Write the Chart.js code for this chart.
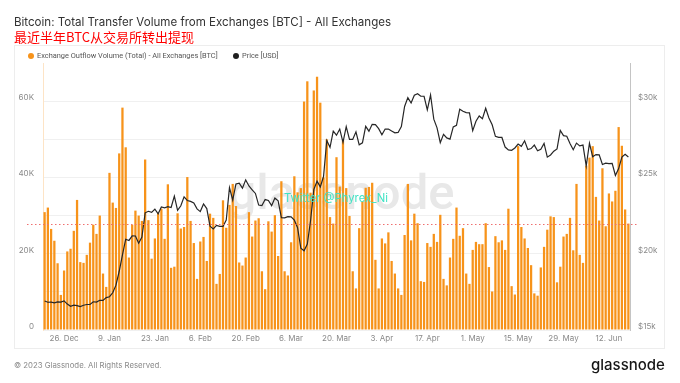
<!DOCTYPE html>
<html><head><meta charset="utf-8">
<script src="https://cdn.jsdelivr.net/npm/chart.js@4.4.0/dist/chart.umd.min.js"></script>
<style>
html,body{margin:0;padding:0;background:#fff;}
#root{position:relative;width:680px;height:383px;overflow:hidden;font-family:Inter,"Noto Sans",sans-serif;}
#panel{position:absolute;left:14px;top:45px;width:651px;height:304px;border:1px solid #ededed;box-sizing:border-box;}
#c{position:absolute;left:0;top:0;}
.t{position:absolute;white-space:nowrap;line-height:1.2;}
#t1{left:14px;top:16px;font-size:11.55px;color:#333;}
#t2{left:14px;top:29px;font-size:13px;color:#ff0000;font-family:"Noto Sans CJK SC";font-weight:400;}
.lg{top:51.5px;font-size:7.4px;color:#555;font-family:Roboto,sans-serif;}
.dot{position:absolute;width:6px;height:6px;border-radius:3px;top:53px;}
#tw{left:284px;top:192px;font-size:11.3px;color:#3fe3c4;}
#foot{left:14px;top:361px;font-size:7.8px;color:#8a8a8a;}
#logo{left:591px;top:356px;font-size:15px;color:#161616;font-weight:500;}
</style></head>
<body><div id="root">
<div id="panel"></div>
<canvas id="c" width="680" height="383"></canvas>
<div class="t" id="t1">Bitcoin: Total Transfer Volume from Exchanges [BTC] - All Exchanges</div>
<div class="t" id="t2">最近半年BTC从交易所转出提现</div>
<div class="dot" style="left:28px;background:#f7931a"></div>
<div class="t lg" style="left:37px">Exchange Outflow Volume (Total) - All Exchanges [BTC]</div>
<div class="dot" style="left:233px;background:#1f1f1f"></div>
<div class="t lg" style="left:242px">Price [USD]</div>
<div class="t" id="tw">Twitter @Phyrex_Ni</div>
<div class="t" id="foot">© 2023 Glassnode. All Rights Reserved.</div>
<div class="t" id="logo">glassnode</div>
</div>
<script>
// ---- data ----
const startDate = [2022, 11, 20]; // 20 Dec 2022, daily categories
const tickLabels = ['26. Dec','9. Jan','23. Jan','6. Feb','20. Feb','6. Mar','20. Mar','3. Apr','17. Apr','1. May','15. May','29. May','12. Jun'];
const outflowBtc = [
30900,32100,26500,23400,17500,9200,15600,20600,21300,26000,34100,17800,17600,19700,22900,27600,25200,30000,14800,11300,
41200,33400,32000,46300,58300,47900,19000,27600,31300,30000,28600,44700,28800,18700,24000,30700,31800,23900,38200,16300,
16600,30600,26600,27000,40100,28600,22800,13400,23200,24400,18100,30500,29400,12100,14700,34000,26800,32800,38300,32500,
17700,16900,19000,30900,24500,28700,29300,15400,10700,28500,25800,30100,19400,39000,15400,14300,23000,40300,36100,37200,
59900,65200,36000,62800,66400,59600,40000,50000,29600,27900,45300,37600,49800,37200,29900,15400,10900,26700,33700,37300,
37500,38600,18400,10900,24000,22700,25600,18100,14800,10900,9200,24900,38300,23500,30500,28000,12800,12600,22800,21800,
25200,23100,30200,13400,11700,19000,23900,32100,24700,26700,14800,12100,21000,23100,22500,22500,28000,16500,10100,24600,
23000,23500,21000,31800,11500,9300,48200,27000,24000,21500,17000,9600,9000,16400,21800,26300,29800,29600,12500,16600,
24500,25200,29400,20900,38300,19700,17600,43100,45200,48200,34900,28700,42400,27200,35800,33700,36500,53200,48300,31600,
27900];
const priceUsd = [
16900,16820,16830,16780,16840,16830,16910,16700,16550,16630,16600,16540,
16620,16670,16670,16850,16830,16950,16940,17120,17180,17440,17940,18850,19930,20950,20870,21170,21160,20690,21090,22680,22780,22710,22920,22620,23060,23010,23080,23030,23770,22840,23140,
23730,23490,23430,23330,22940,22760,23260,22960,21800,21630,21860,21790,21790,22200,24330,23520,24570,24630,24300,24840,24440,24190,23950,23190,23150,23550,23490,23150,
23650,23470,22360,22350,22430,22410,22200,21700,20360,20190,20630,22160,24200,24750,24380,25060,27420,26970,28040,27770,28170,27300,28330,27490,27490,27990,27140,27270,28350,28030,28480,
28460,28200,27800,28170,28170,28040,27920,27950,28330,29650,30230,29880,30390,30490,30320,30320,29430,30400,28820,28250,27280,27820,27590,27510,28310,28420,29470,29340,29250,29230,
28070,28680,29030,28850,29530,28900,28450,27690,27630,27620,26990,26800,26780,26930,27190,27040,27400,26830,26890,27120,26750,26850,27230,26330,26470,26720,26870,28080,27740,27700,27220,
26820,27250,27070,27120,25750,27240,26350,26500,26480,25850,25940,25900,25920,25130,25580,26330,26510,26340];
const refLevel = 27700; // red dotted reference line
const leftGrid = [0, 10000, 20000, 30000, 40000, 50000, 60000];
const leftTicks = [0, 20000, 40000, 60000];
const rightTicks = [15000, 20000, 25000, 30000];

// ---- category labels ----
const MON = ['Jan','Feb','Mar','Apr','May','Jun','Jul','Aug','Sep','Oct','Nov','Dec'];
const dayLabels = outflowBtc.map((_, i) => {
  const d = new Date(Date.UTC(startDate[0], startDate[1], startDate[2] + i));
  return d.getUTCDate() + '. ' + MON[d.getUTCMonth()];
});

const watermark = {
  id: 'wm',
  beforeDatasetsDraw(chart) {
    const a = chart.chartArea, c = chart.ctx;
    c.save();
    c.font = '500 49px Roboto, "Noto Sans", sans-serif';
    c.fillStyle = '#e8e8e8';
    c.textAlign = 'center';
    c.textBaseline = 'middle';
    c.fillText('glassnode', (a.left + a.right) / 2 + 5, (a.top + a.bottom) / 2);
    c.restore();
  }
};
const refLine = {
  id: 'ref',
  afterDatasetsDraw(chart) {
    const a = chart.chartArea, c = chart.ctx;
    const y = Math.round(chart.scales.y.getPixelForValue(refLevel)) + 0.5;
    c.save();
    c.strokeStyle = '#ef6f6f';
    c.lineWidth = 1;
    c.setLineDash([1.5, 2.5]);
    c.beginPath(); c.moveTo(a.left - 16, y); c.lineTo(a.right + 9, y); c.stroke();
    c.restore();
  }
};

const tickFont = {family: 'Inter, "Noto Sans", sans-serif', size: 8};
new Chart(document.getElementById('c'), {
  data: {
    labels: dayLabels,
    datasets: [
      {type: 'line', label: 'Price [USD]', data: priceUsd, yAxisID: 'y1', borderColor: '#262626', borderWidth: 1.2, pointRadius: 0, tension: 0, order: 0},
      {type: 'bar', label: 'Exchange Outflow Volume (Total) - All Exchanges [BTC]', data: outflowBtc, yAxisID: 'y', backgroundColor: '#f7931a', barPercentage: 0.7, categoryPercentage: 1, order: 1}
    ]
  },
  options: {
    responsive: false, animation: false, devicePixelRatio: 1,
    layout: {padding: {left: 14, right: 15, top: 63, bottom: 35}},
    plugins: {legend: {display: false}, tooltip: {enabled: false}},
    scales: {
      x: {
        grid: {display: false, drawTicks: false}, border: {display: false},
        ticks: {autoSkip: false, maxRotation: 0, padding: 4, color: '#8a8a8a', font: tickFont,
          callback(v) { const l = this.getLabelForValue(v); return tickLabels.includes(l) ? l : null; }},
        afterFit(s) { s.height = 18; }
      },
      y: {
        position: 'left', min: 0, max: 70000,
        grid: {color: '#f0f0f0', drawTicks: false},
        border: {color: 'rgba(247,147,26,0.25)'},
        afterBuildTicks(s) { s.ticks = leftGrid.map(v => ({value: v})); },
        ticks: {padding: 9, labelOffset: -3.5, color: '#8a8a8a', font: tickFont,
          callback(v) { return leftTicks.includes(v) ? (v === 0 ? '0' : v / 1000 + 'K') : ''; }},
        afterFit(s) { s.width = 29; }
      },
      y1: {
        position: 'right', min: 15000, max: 32500,
        grid: {display: false, drawTicks: false},
        border: {color: '#c4c4c4'},
        afterBuildTicks(s) { s.ticks = rightTicks.map(v => ({value: v})); },
        ticks: {padding: 8, labelOffset: -3.5, color: '#8a8a8a', font: tickFont,
          callback(v) { return '$' + v / 1000 + 'k'; }},
        afterFit(s) { s.width = 35; }
      }
    }
  },
  plugins: [watermark, refLine]
});
</script>
</body></html>
